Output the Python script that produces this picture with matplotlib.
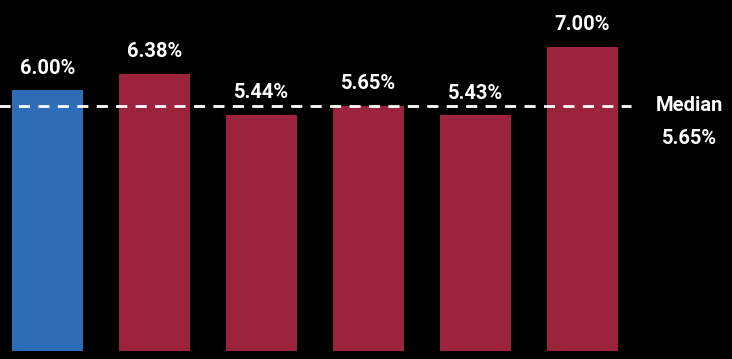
import matplotlib
matplotlib.use("Agg")
import matplotlib.pyplot as plt

# bar values (%)
values = [6.00, 6.38, 5.44, 5.65, 5.43, 7.00]
colors = ['#2E6CB8', '#9C233C', '#9C233C', '#9C233C', '#9C233C', '#9C233C']
labels = [f"{v:.2f}%" for v in values]
median = 5.65

plt.rcParams['font.family'] = ['Roboto', 'DejaVu Sans']

fig = plt.figure(figsize=(7.32, 3.59), dpi=100, facecolor='black')
ax = fig.add_axes([0, 0, 1, 1])
ax.set_facecolor('black')

x = list(range(len(values)))
ax.bar(x, values, width=0.66, color=colors)

# value labels above bars
for xi, v, lab in zip(x, values, labels):
    ax.annotate(lab, (xi, v), xytext=(0, 9), textcoords='offset points',
                ha='center', va='bottom', color='white', fontsize=14.5,
                fontweight='bold')

# median line
ax.plot([-0.5, 5.45], [median, median], color='white', lw=2,
        dashes=(4, 3))
ax.text(6.0, median, 'Median', color='white', fontsize=14.5,
        fontweight='bold', ha='center', va='center')
ax.text(6.0, median - 0.75, f"{median:.2f}%", color='white', fontsize=14.5,
        fontweight='bold', ha='center', va='center')

ax.set_xlim(-0.444, 6.397)
ax.set_ylim(-0.184, 8.08)
ax.axis('off')

fig.savefig('out.png', dpi=100, facecolor='black')
